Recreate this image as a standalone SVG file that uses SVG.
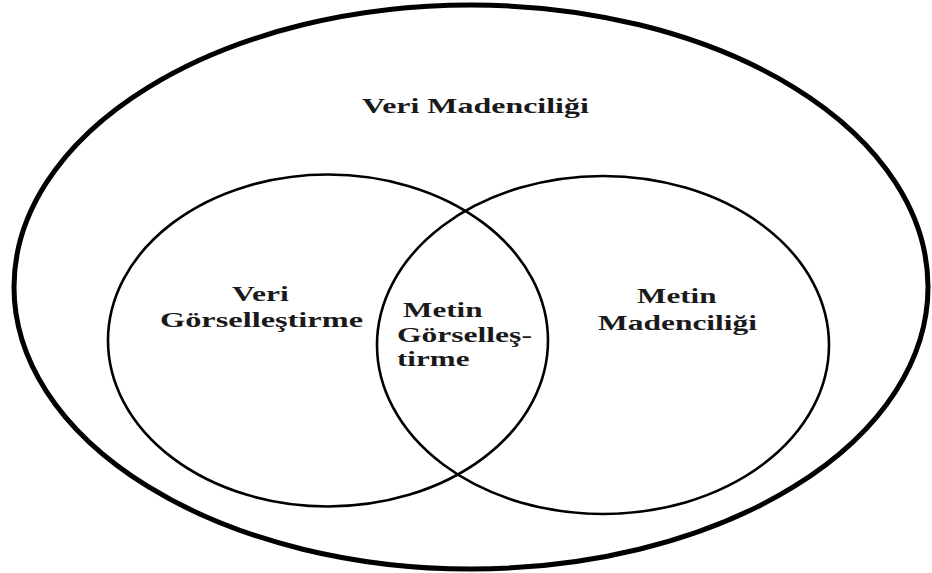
<svg xmlns="http://www.w3.org/2000/svg" width="932" height="573" viewBox="0 0 932 573">
<style>
.outer{fill:none;stroke:#000;stroke-width:5}
.set{fill:none;stroke:#000;stroke-width:2.6}
text{font-family:"Liberation Serif","Times New Roman",serif;font-weight:bold;font-size:22px;fill:#1a1a1a}
</style>
<rect width="932" height="573" fill="#fff"/>
<g id="veri-madenciligi">
<ellipse class="outer" cx="471" cy="287" rx="457" ry="282"/>
<text transform="translate(362,113) scale(1.4,1)" font-size="23" textLength="162" lengthAdjust="spacingAndGlyphs">Veri Madenciliği</text>
</g>
<g id="veri-gorsellestirme">
<ellipse class="set" cx="328" cy="340.5" rx="220" ry="166"/>
<text transform="translate(232,301) scale(1.42,1)" textLength="40" lengthAdjust="spacingAndGlyphs">Veri</text>
<text transform="translate(160,327) scale(1.42,1)" textLength="143" lengthAdjust="spacingAndGlyphs">Görselleştirme</text>
</g>
<g id="metin-madenciligi">
<ellipse class="set" cx="603" cy="345" rx="226" ry="169"/>
<text transform="translate(637,303) scale(1.42,1)" textLength="56" lengthAdjust="spacingAndGlyphs">Metin</text>
<text transform="translate(598,330) scale(1.42,1)" textLength="112" lengthAdjust="spacingAndGlyphs">Madenciliği</text>
</g>
<g id="metin-gorsellestirme">
<text transform="translate(403,317) scale(1.42,1)" textLength="56" lengthAdjust="spacingAndGlyphs">Metin</text>
<text transform="translate(397,342) scale(1.42,1)" textLength="95" lengthAdjust="spacingAndGlyphs">Görselleş-</text>
<text transform="translate(397,366) scale(1.42,1)" textLength="51" lengthAdjust="spacingAndGlyphs">tirme</text>
</g>
<g id="connectors"></g>
</svg>
